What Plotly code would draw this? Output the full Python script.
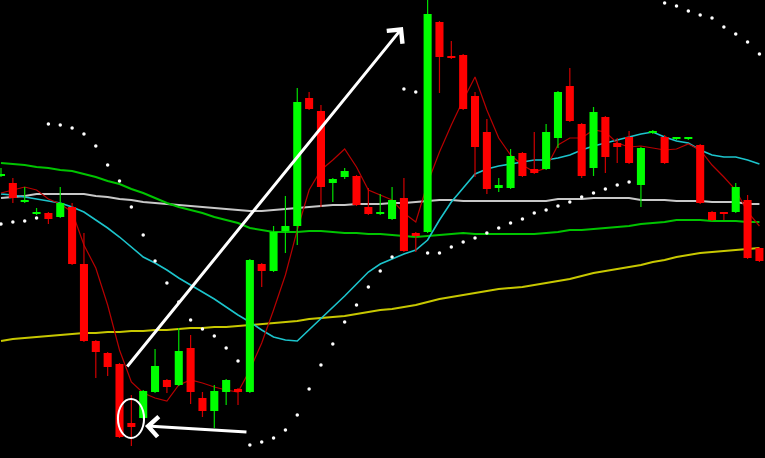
import plotly.graph_objects as go

# ---- data (price levels, arbitrary units) ----
idx = list(range(65))
opens  = [282,275,256,244,245,241,251,194,117,105, 94,35,40,66,78,73,110,60,47,66,
          69,66,194,187,227,232,360,347,275,281, 282,251,244,239,260,225,226,436,402,403,
          362,326,270,270,305,289,289,320,372,334, 290,341,315,321,273,325,321,319,319,313,
          246,246,246,258,210]
highs  = [290,280,271,250,246,271,255,225,118,106, 95,63,68,109,79,130,123,66,73,79,
          70,199,195,232,262,370,366,353,280,290, 283,270,264,271,280,226,460,437,417,404,
          366,339,280,309,306,326,334,367,390,335, 351,342,320,327,311,328,323,321,321,314,
          247,246,275,263,211]
lows   = [281,255,255,243,234,240,193,116,80,82, 20,12,39,65,65,72,54,41,30,53,
          53,65,171,186,205,213,348,251,256,279, 252,243,243,238,206,206,225,365,399,348,
          281,264,266,269,281,284,288,310,336,280, 282,285,295,294,251,324,294,318,318,254,
          237,238,245,199,196]
closes = [284,260,258,246,239,255,194,117,106,91, 21,31,67,92,71,107,66,47,67,78,
          66,198,187,226,232,356,349,271,279,287, 253,244,246,258,207,222,444,401,400,349,
          311,269,273,302,282,285,326,366,337,282, 346,301,311,295,310,327,295,321,321,255,
          238,244,271,200,197]

ma_fast = [265,268,271,268,259,254,246,213,190,153, 108,76,65,60,57,73,78,75,71,68,
           66,88,115,148,183,228,268,288,298,309, 291,268,263,258,245,236,275,306,333,358,
           381,348,320,303,293,286,290,313,320,320, 328,326,315,311,312,310,308,309,314,308,
           293,281,268,246,232]
ma_cyan = [264,263,261,259,257,255,251,246,238,230, 221,211,201,195,188,180,173,166,159,151,
           143,136,128,121,118,117,128,140,151,162, 174,186,194,199,204,208,218,238,256,270,
           284,289,292,294,296,298,298,300,303,308, 312,315,318,321,324,326,321,317,315,308,
           303,301,301,298,294]
ma_gray = [260,261,262,264,264,264,264,264,262,261, 259,258,256,255,254,253,252,251,250,249,
           248,247,247,248,249,250,251,252,253,253, 254,254,254,255,255,256,257,258,258,257,
           257,257,257,257,257,257,257,259,259,259, 260,260,260,260,258,258,258,257,257,257,
           256,256,256,254,254]
ma_green = [295,294,293,291,290,288,287,284,281,277, 274,269,265,260,255,251,248,245,241,238,
            235,230,228,226,226,226,227,227,226,225, 225,224,224,223,222,221,222,223,224,225,
            224,224,224,224,224,224,225,226,228,228, 229,230,231,232,234,235,236,238,238,238,
            237,237,237,236,236]
ma_yellow = [117,119,120,121,122,123,124,125,125,126, 126,127,127,128,128,129,130,130,131,131,
             132,133,134,135,136,137,139,140,141,142, 144,146,148,149,151,153,156,159,161,163,
             165,167,169,170,171,173,175,177,179,182, 185,187,189,191,193,196,198,201,203,205,
             206,207,208,209,210]
sar = [234,236,237,240,334,333,330,324,312,293, 277,251,223,197,175,156,138,129,122,110,
       97,13,16,20,28,43,69,93,114,136, 153,171,187,201,369,366,205,205,211,216,
       220,225,230,235,239,245,248,252,256,261, 265,269,273,276,None,None,455,452,447,443,
       440,431,424,416,404]

# drawing objects (hand-drawn marks on the chart)
ARROW_UP = dict(tail=(10.55, 90), tip=(33.92, 431))
ARROW_LEFT = dict(tail=(20.84, 26), tip=(12.15, 32))
ELLIPSE = dict(x0=9.87, x1=12.07, y0=20, y1=59)

UP_BODY = "#00ff00"
DN_BODY = "#ff0000"
UP_WICK = "#00e000"
DN_WICK = "#d00000"

fig = go.Figure()

# indicator lines (under candles)
fig.add_trace(go.Scatter(x=idx, y=ma_gray, mode="lines", line=dict(color="#c8c8c8", width=2), yaxis="y"))
fig.add_trace(go.Scatter(x=idx, y=ma_green, mode="lines", line=dict(color="#00c400", width=2), yaxis="y"))
fig.add_trace(go.Scatter(x=idx, y=ma_yellow, mode="lines", line=dict(color="#c8c800", width=2), yaxis="y"))
fig.add_trace(go.Scatter(x=idx, y=ma_cyan, mode="lines", line=dict(color="#1cc4cc", width=1.6), yaxis="y"))
fig.add_trace(go.Scatter(x=idx, y=ma_fast, mode="lines", line=dict(color="#b80000", width=1.2), yaxis="y"))

# wicks
def wick_xy(cond):
    xs, ys = [], []
    for i, o, h, l, c in zip(idx, opens, highs, lows, closes):
        if cond(o, c):
            xs += [i, i, None]
            ys += [l, h, None]
    return xs, ys

wx, wy = wick_xy(lambda o, c: c >= o)
fig.add_trace(go.Scatter(x=wx, y=wy, mode="lines", line=dict(color=UP_WICK, width=1.2), yaxis="y"))
wx, wy = wick_xy(lambda o, c: c < o)
fig.add_trace(go.Scatter(x=wx, y=wy, mode="lines", line=dict(color=DN_WICK, width=1.2), yaxis="y"))

# bodies (on overlay axis so they sit above the lines)
up_x = [i for i, o, c in zip(idx, opens, closes) if c >= o]
up_b = [o for o, c in zip(opens, closes) if c >= o]
up_h = [c - o for o, c in zip(opens, closes) if c >= o]
dn_x = [i for i, o, c in zip(idx, opens, closes) if c < o]
dn_b = [c for o, c in zip(opens, closes) if c < o]
dn_h = [o - c for o, c in zip(opens, closes) if c < o]
fig.add_trace(go.Bar(x=up_x, y=up_h, base=up_b, width=0.68, marker=dict(color=UP_BODY, line=dict(width=0)), yaxis="y2"))
fig.add_trace(go.Bar(x=dn_x, y=dn_h, base=dn_b, width=0.68, marker=dict(color=DN_BODY, line=dict(width=0)), yaxis="y2"))

# parabolic SAR dots
fig.add_trace(go.Scatter(x=idx, y=sar, mode="markers",
                         marker=dict(color="white", size=3.5, symbol="circle"), yaxis="y2"))

for a in (ARROW_UP, ARROW_LEFT):
    fig.add_annotation(x=a["tip"][0], y=a["tip"][1], ax=a["tail"][0], ay=a["tail"][1],
                       xref="x", yref="y", axref="x", ayref="y", text="", showarrow=True,
                       arrowcolor="white", arrowwidth=3, arrowhead=4, arrowsize=1.3, standoff=0)

fig.add_shape(type="circle", xref="x", yref="y", x0=ELLIPSE["x0"], x1=ELLIPSE["x1"],
              y0=ELLIPSE["y0"], y1=ELLIPSE["y1"], line=dict(color="white", width=2))

YR = [0, 458]
fig.update_layout(
    width=765, height=458, margin=dict(l=0, r=0, t=0, b=0, pad=0),
    paper_bgcolor="black", plot_bgcolor="black", showlegend=False,
    barmode="overlay", hovermode=False,
    xaxis=dict(range=[-0.0844, 64.47], visible=False, showgrid=False, zeroline=False),
    yaxis=dict(range=YR, visible=False, showgrid=False, zeroline=False),
    yaxis2=dict(range=YR, visible=False, showgrid=False, zeroline=False, overlaying="y"),
)

fig.write_html("out.html", config={"displayModeBar": False},
               post_script="document.body.style.margin='0';document.body.style.background='#000';")
